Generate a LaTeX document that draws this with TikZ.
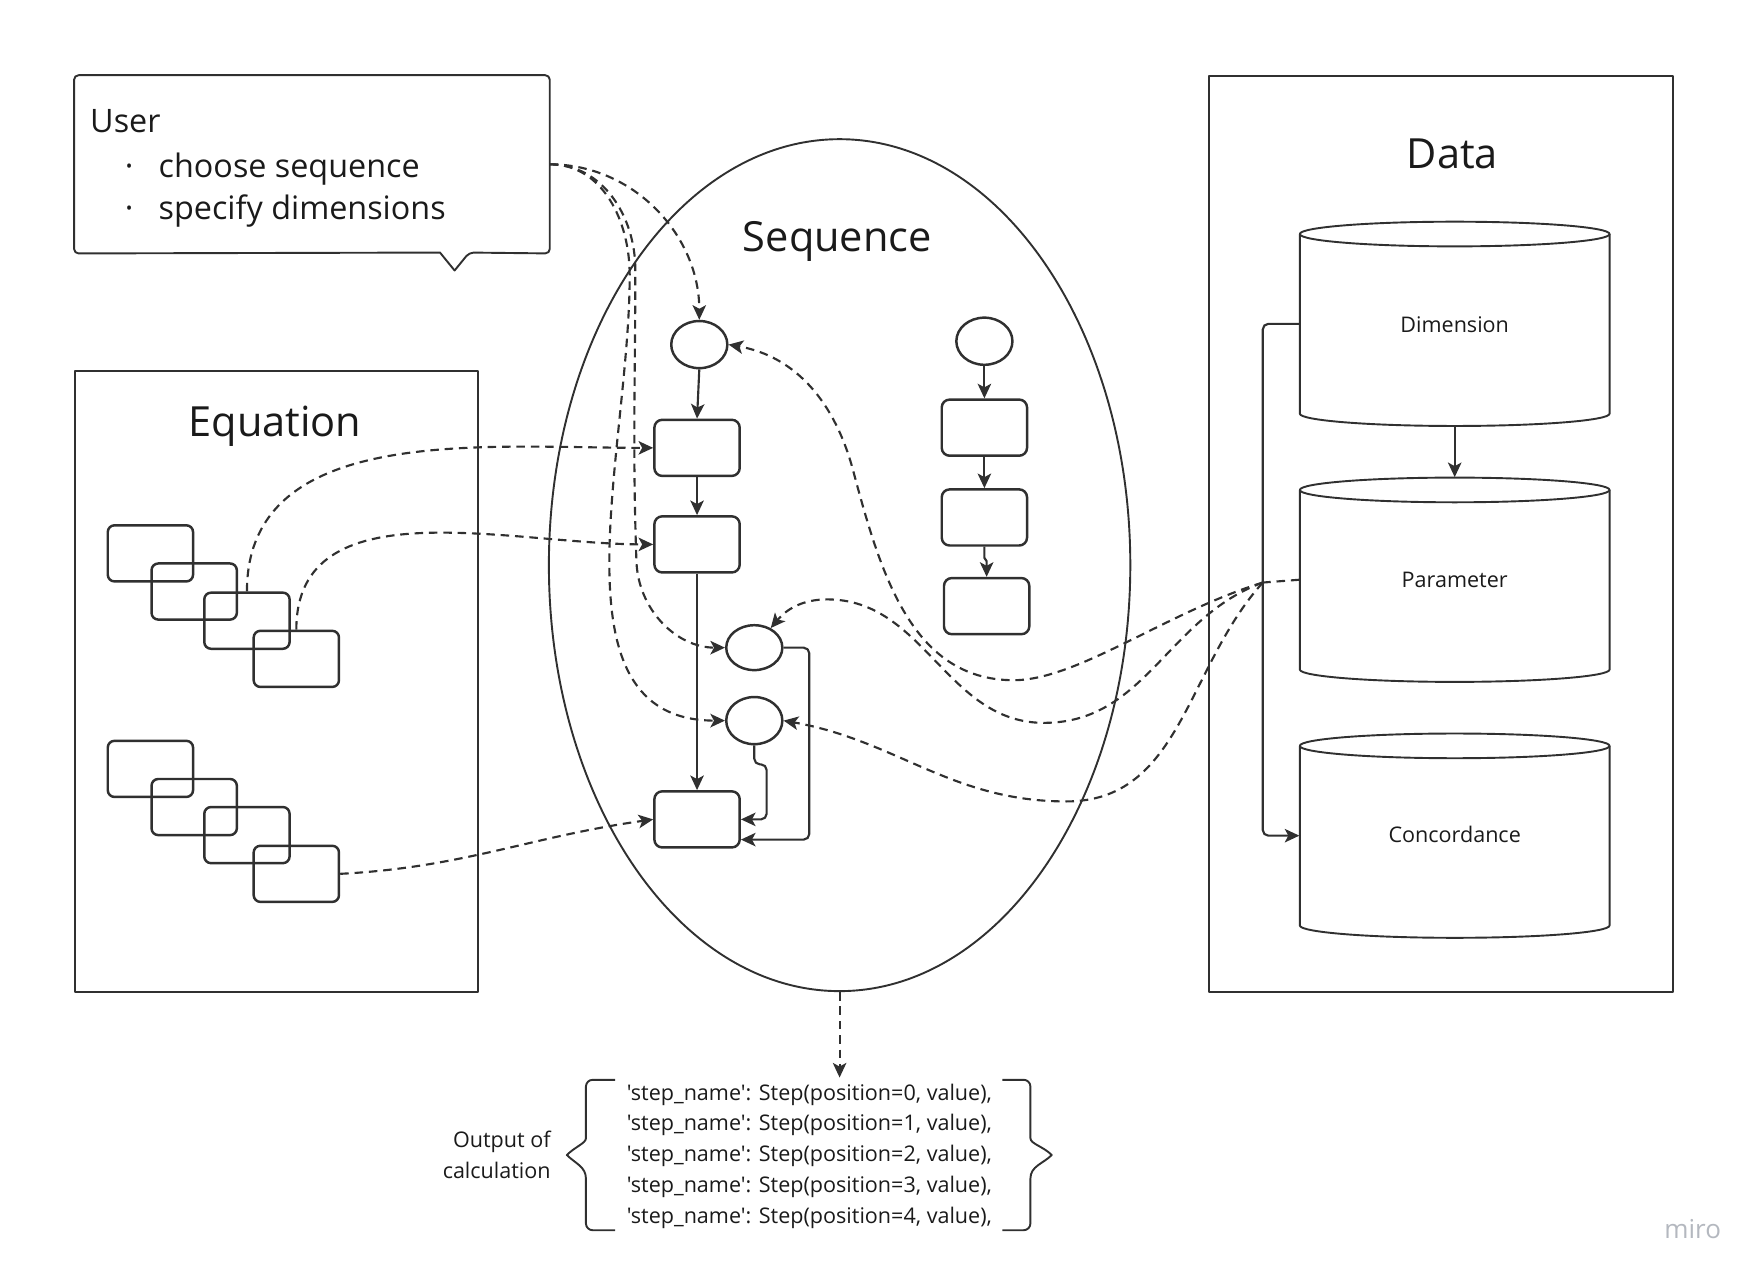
\documentclass[tikz,border=0pt]{standalone}
\usepackage{fontspec}
\setmainfont{Open Sans}
\newfontfamily\codefont{Open Sans}
\usetikzlibrary{arrows.meta,shapes.geometric,calc}
\definecolor{ink}{HTML}{303030}
\definecolor{txt}{HTML}{1A1A1A}
\definecolor{wm}{HTML}{B4B8BF}
\begin{document}
\begin{tikzpicture}[x=0.5pt,y=0.5pt,line join=round,
  boxframe/.style={draw=ink,line width=0.85pt},
  rbox/.style={draw=ink,line width=1.1pt,rounded corners=3.5pt,minimum width=38pt,minimum height=25pt,inner sep=0pt},
  ebox/.style={draw=ink,line width=1.1pt,rounded corners=3pt,minimum width=38pt,minimum height=25pt,inner sep=0pt},
  circ/.style={draw=ink,line width=1.1pt,ellipse,minimum width=25pt,minimum height=21pt,inner sep=0pt},
  arr/.style={draw=ink,line width=0.95pt,-{Stealth[length=6.5pt,width=6pt,inset=1.6pt]}},
  dcon/.style={arr,dash pattern=on 3.8pt off 2.6pt},
  dline/.style={draw=ink,line width=0.95pt,dash pattern=on 3.8pt off 2.6pt},
  ttl/.style={font=\fontsize{18.5}{22}\selectfont,text=txt,inner sep=0pt},
  usertxt/.style={font=\fontsize{14.4}{18}\selectfont,text=txt,inner sep=0pt},
  lbl/.style={font=\fontsize{9.6}{12}\selectfont,text=txt,inner sep=0pt},
  cyl/.style={minimum width=138pt,minimum height=91pt,inner sep=0pt}
]
\useasboundingbox (0,0) rectangle (1568,-1139);

% ---------- User callout ----------
\node[minimum width=211.5pt,minimum height=79pt,inner sep=0pt,anchor=north west] (user) at (66,-67) {};
\draw[boxframe,rounded corners=2pt] (user.north west) -- (user.north east) -- (user.south east) -- (418,-225) [sharp corners] -- (405,-241) -- (392,-225) [rounded corners=2pt] -- (user.south west) -- cycle;
\node[usertxt,anchor=base west] (ut) at (80,-118) {User};
\node[usertxt,anchor=base] (ud1) at (115,-158) {·};
\node[usertxt,anchor=base west] (u1) at (141,-158) {choose sequence};
\node[usertxt,anchor=base] (ud2) at (115,-196) {·};
\node[usertxt,anchor=base west] (u2) at (141,-196) {specify dimensions};

% ---------- Equation ----------
\node[boxframe,minimum width=179.5pt,minimum height=276.5pt,inner sep=0pt,anchor=north west] (eqbox) at (66,-330) {};
\node[ttl,anchor=base] (eqt) at (245,-389) {Equation};
\node[ebox] (e1) at (134,-493) {};
\node[ebox] (e2) at (173,-527) {};
\node[ebox] (e3) at (220,-553) {};
\node[ebox] (e4) at (264,-587) {};
\node[ebox] (f1) at (134,-685) {};
\node[ebox] (f2) at (173,-719) {};
\node[ebox] (f3) at (220,-744) {};
\node[ebox] (f4) at (264,-778.5) {};

% ---------- Data ----------
\node[boxframe,minimum width=207pt,minimum height=408pt,inner sep=0pt,anchor=north west] (databox) at (1076,-67) {};
\node[ttl,anchor=base] (datat) at (1294,-150) {Data};
\node[cyl] (dim) at (1296,-288.5) {};
\node[cyl] (param) at (1296,-516.5) {};
\node[cyl] (conc) at (1296,-744.5) {};
\foreach \n in {dim,param,conc}{
  \draw[boxframe] ($(\n.center)+(-138,80)$) -- ($(\n.center)+(-138,-80)$)
     arc[start angle=180,end angle=360,x radius=69pt,y radius=5.5pt] -- ($(\n.center)+(138,80)$);
  \draw[boxframe] ($(\n.center)+(0,80)$) ellipse[x radius=69pt,y radius=5.5pt];
}
\node[lbl,anchor=base] (dimt) at (1296,-296) {Dimension};
\node[lbl,anchor=base] (paramt) at (1296,-523) {Parameter};
\node[lbl,anchor=base] (conct) at (1296,-751) {Concordance};
\draw[arr] (dim.south) -- (param.north);
\draw[arr,rounded corners=2.5pt] (dim.west) -- (1125,-288.5) -- (1125,-744.5) -- (conc.west);

% ---------- Sequence ----------
\node[boxframe,ellipse,minimum width=259pt,minimum height=379.5pt,inner sep=0pt] (seq) at (748,-503.5) {};
\node[ttl,anchor=base] (seqt) at (746,-224) {Sequence};
\node[circ] (a) at (623,-307) {};
\node[rbox] (b1) at (621,-399) {};
\node[rbox] (b2) at (621,-485) {};
\node[circ,minimum height=20pt] (c1) at (672,-577) {};
\node[circ] (c2) at (672,-642) {};
\node[rbox] (b3) at (621,-730) {};
\node[circ] (d) at (877,-304) {};
\node[rbox] (r1) at (877,-381) {};
\node[rbox] (r2) at (877,-461) {};
\node[rbox] (r3) at (879,-540) {};

\draw[arr] (a.south) -- (b1.north);
\draw[arr] (b1.south) -- (b2.north);
\draw[arr] (b2.south) -- (b3.north);
\draw[arr,rounded corners=2.5pt] (c1.east) -- (721,-577) -- (721,-748) -- (b3.east |- 0,-748);
\draw[arr,rounded corners=2.5pt] (c2.south) -- (672,-681) -- (683,-681) -- (683,-730) -- (b3.east);
\draw[arr] (d.south) -- (r1.north);
\draw[arr] (r1.south) -- (r2.north);
\draw[arr] (r2.south) -- (877,-497) -- (879,-500) -- (r3.north);

% ---------- dashed connectors: user ----------
\draw[dcon] (user.east) to[out=0,in=90] (a.north);
\draw[dcon] (user.east) to[out=0,in=90] (566,-240) to[out=-90,in=92] (567,-500) to[out=-88,in=180] (c1.west);
\draw[dcon] (user.east) to[out=0,in=90] (561,-245) to[out=-90,in=180] (c2.west);

% ---------- dashed connectors: equation ----------
\draw[dcon] (e3.north) to[out=90,in=180] (b1.west);
\draw[dcon] (e4.north) to[out=90,in=180] (b2.west);
\draw[dcon] (f4.east) to[out=3,in=188] (b3.west);

% ---------- dashed connectors: parameter ----------
\coordinate (pm) at (1125,-519);
\draw[dline] (param.west) -- (pm);
\draw[dcon] (pm) .. controls (1040,-545) and (960,-606) .. (903,-606)
   to[out=180,in=-75] (760,-419) to[out=105,in=-10] (a.east);
\draw[dcon] (pm) to[out=200,in=0] (930,-644) to[out=180,in=0] (737,-534) to[out=180,in=50] (c1.50);
\draw[dcon] (pm) to[out=228,in=0] (950,-714) to[out=180,in=-10] (c2.east);

% ---------- output ----------
\coordinate (codetop) at (748,-960);
\draw[dcon] (seq.south) -- (codetop);
\foreach \i/\y in {0/980,1/1007.5,2/1035,3/1062.5,4/1090}
  \node[lbl,font=\fontsize{9.6}{12}\codefont,anchor=base west] (l\i) at (558,-\y) {'step\_name': Step(position=\i, value),};
\node[lbl,anchor=base east] (o1) at (491,-1022) {Output of};
\node[lbl,anchor=base east] (o2) at (491,-1050) {calculation};
\draw[boxframe,rounded corners=3pt] (548,-962) -- (522,-962) -- (522,-1008) [sharp corners] to[out=-90,in=45] (505,-1029) to[out=-45,in=90] (522,-1050) [rounded corners=3pt] -- (522,-1096) -- (548,-1096);
\draw[boxframe,rounded corners=3pt] (893,-962) -- (918,-962) -- (918,-1008) [sharp corners] to[out=-90,in=135] (937,-1029) to[out=-135,in=90] (918,-1050) [rounded corners=3pt] -- (918,-1096) -- (893,-1096);

\node[font=\fontsize{11.6}{14}\selectfont,text=wm,inner sep=0pt] (miro) at (1508,-1095) {miro};
\end{tikzpicture}
\end{document}
